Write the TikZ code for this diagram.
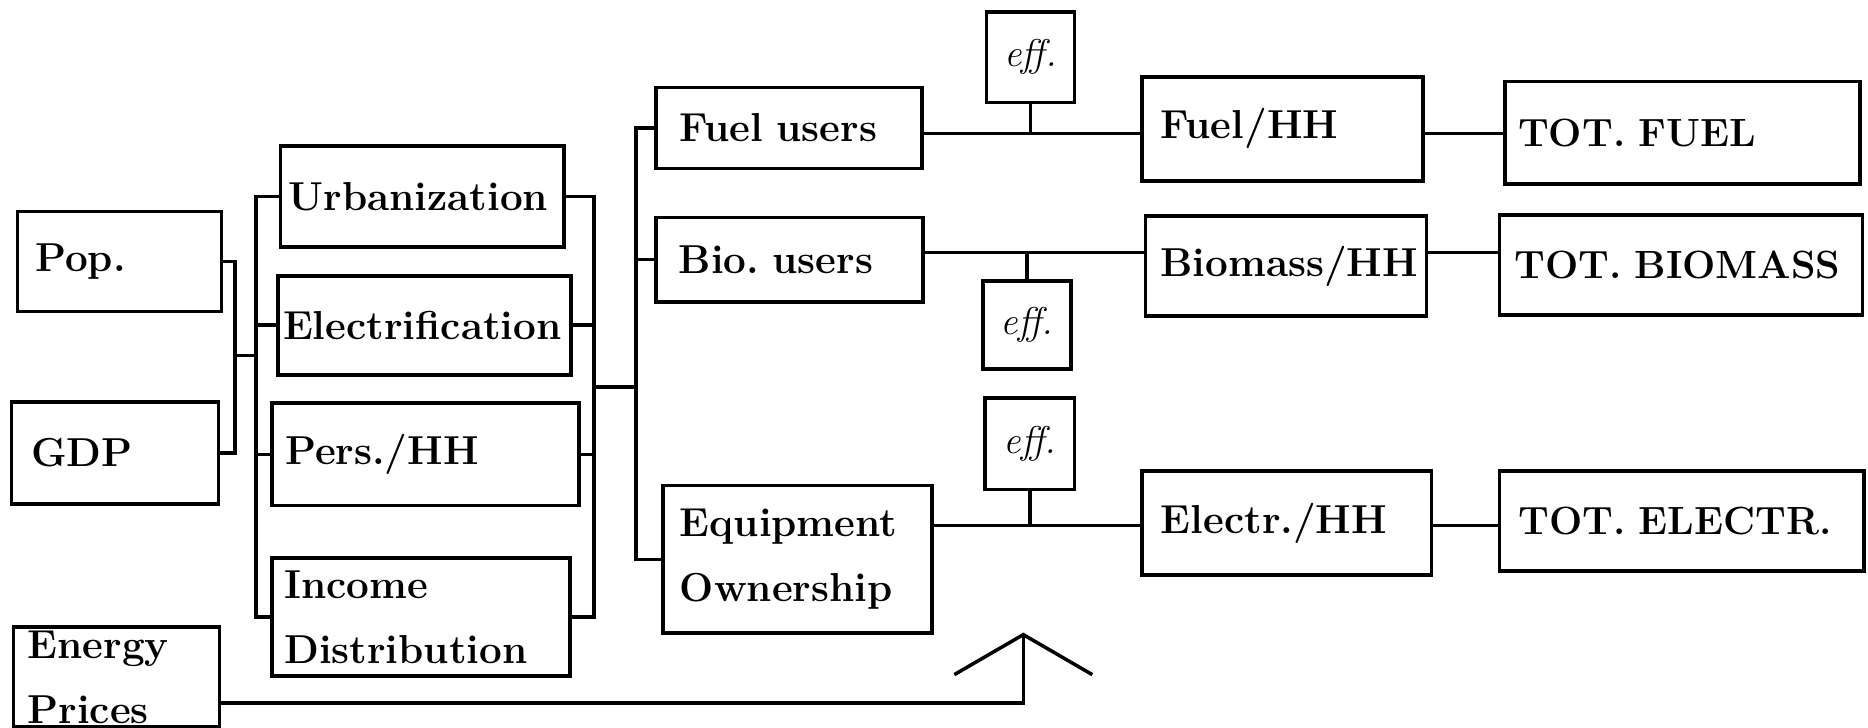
\documentclass[tikz,border=0pt]{standalone}
\usepackage{tikz}
\usetikzlibrary{arrows.meta}

\begin{document}
\begin{tikzpicture}[y=-1cm,line width=1pt,
    blk/.style={rectangle,draw,anchor=north west,align=left,
                font=\bfseries\fontsize{11.5}{18.5}\selectfont},
    totblk/.style={blk,font=\bfseries\fontsize{11.2}{18.5}\selectfont},
    effblk/.style={rectangle,draw,inner sep=0pt,
                   font=\itshape\fontsize{11}{12}\selectfont}]
    \useasboundingbox (0,0) rectangle (18.68,7.28);
    \clip (0,0) rectangle (18.68,7.28);

    \node[blk,inner xsep=0.18cm,text width=1.68cm,minimum height=1.00cm]
          (pop) at (0.155,2.097) {Pop.};
    \node[blk,inner xsep=0.20cm,text width=1.67cm,minimum height=1.02cm]
          (gdp) at (0.095,4.003) {GDP};
    \node[blk,inner xsep=0.14cm,inner ysep=1pt,text width=1.78cm]
          (prices) at (0.119,6.254) {Energy\\Prices};

    \node[blk,inner xsep=0.08cm,text width=2.675cm,minimum height=1.013cm]
          (urb) at (2.788,1.441) {Urbanization};
    \node[blk,inner xsep=0.05cm,text width=2.83cm,minimum height=0.99cm]
          (elec) at (2.764,2.740) {Electrification};
    \node[blk,inner xsep=0.13cm,text width=2.81cm,minimum height=1.024cm]
          (pers) at (2.704,4.015) {Pers./HH};
    \node[blk,inner xsep=0.12cm,text width=2.74cm,minimum height=1.18cm]
          (inc) at (2.704,5.563) {Income\\Distribution};

    \node[blk,inner xsep=0.24cm,text width=2.18cm,minimum height=0.81cm]
          (fuelu) at (6.540,0.858) {Fuel users};
    \node[blk,inner xsep=0.23cm,text width=2.21cm,minimum height=0.846cm]
          (biou) at (6.540,2.156) {Bio.\ users};
    \node[blk,inner xsep=0.17cm,text width=2.35cm,minimum height=1.477cm]
          (equip) at (6.612,4.837) {Equipment\\Ownership};

    \node[effblk,minimum width=0.88cm,minimum height=0.906cm]
          (eff1) at (10.305,0.572) {eff.};
    \node[effblk,minimum width=0.88cm,minimum height=0.88cm]
          (eff2) at (10.269,3.252) {eff.};
    \node[effblk,minimum width=0.894cm,minimum height=0.917cm]
          (eff3) at (10.299,4.437) {eff.};

    \node[blk,inner xsep=0.19cm,text width=2.43cm,minimum height=1.04cm]
          (fuelhh) at (11.401,0.751) {Fuel/HH};
    \node[blk,inner xsep=0.15cm,text width=2.51cm,minimum height=1.0cm]
          (biohh) at (11.436,2.144) {Biomass/HH};
    \node[blk,inner xsep=0.19cm,text width=2.515cm,minimum height=1.036cm]
          (elechh) at (11.401,4.694) {Electr./HH};

    \node[totblk,inner xsep=0.13cm,text width=3.29cm,minimum height=1.025cm]
          (totfuel) at (15.034,0.798) {TOT. FUEL};
    \node[totblk,inner xsep=0.15cm,text width=3.33cm,minimum height=1.0cm]
          (totbio) at (14.975,2.132) {TOT. BIOMASS};
    \node[totblk,inner xsep=0.19cm,text width=3.265cm,minimum height=1.0cm]
          (totelec) at (14.975,4.694) {TOT. ELECTR.};

    \coordinate (popgdp) at (2.35,3.555);
    \coordinate (joinA) at (2.56,3.555);
    \coordinate (joinB) at (5.94,3.87);
    \coordinate (joinC) at (6.36,3.87);
    \coordinate (j1) at (10.305,1.334);
    \coordinate (j2) at (10.269,2.526);
    \coordinate (j3) at (10.299,5.254);
    \coordinate (pbend) at (10.233,7.029);
    \coordinate (ptip) at (10.233,6.326);

    \draw (pop.east) -| (popgdp) |- (gdp.east);
    \draw (popgdp) -- (joinA);
    \draw (urb.west) -| (joinA) |- (inc.west);
    \draw (elec.west) -- (elec.west -| joinA);
    \draw (pers.west) -- (pers.west -| joinA);
    \draw (urb.east) -| (joinB) |- (inc.east);
    \draw (elec.east) -- (elec.east -| joinB);
    \draw (pers.east) -- (pers.east -| joinB);
    \draw (joinB) -- (joinC);
    \draw (fuelu.west) -| (joinC) |- (equip.west);
    \draw (biou.west) -- (biou.west -| joinC);

    \draw (fuelu.east |- j1) -- (fuelhh.west |- j1);
    \draw (eff1.south) -- (eff1.south |- j1);
    \draw (fuelhh.east |- j1) -- (totfuel.west |- j1);
    \draw (biou.east |- j2) -- (biohh.west |- j2);
    \draw (eff2.north) -- (eff2.north |- j2);
    \draw (biohh.east |- j2) -- (totbio.west |- j2);
    \draw (equip.east |- j3) -- (elechh.west |- j3);
    \draw (eff3.south) -- (eff3.south |- j3);
    \draw (elechh.east |- j3) -- (totelec.west |- j3);

    \draw[-{Straight Barb[length=4mm,width=13.8mm]}]
          (prices.east |- pbend) -- (pbend) -- (ptip);
\end{tikzpicture}
\end{document}
